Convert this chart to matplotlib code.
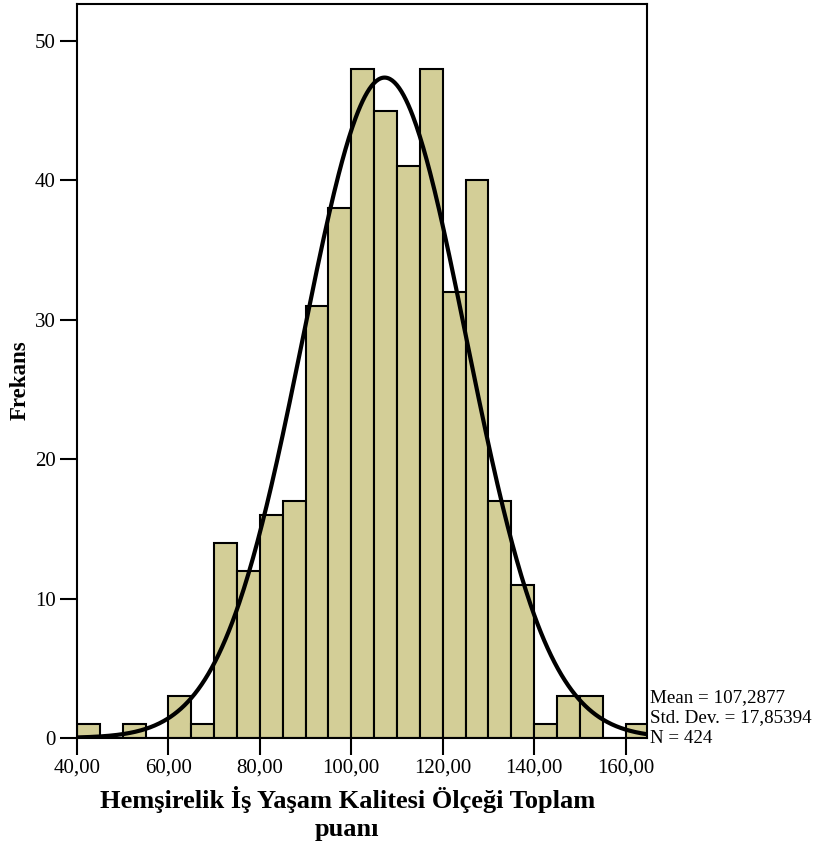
# histogram of Hemşirelik İş Yaşam Kalitesi Ölçeği Toplam puanı with normal curve

import numpy as np
import matplotlib.pyplot as plt

bin_edges = np.arange(40, 170, 5)
counts = [1, 0, 1, 0, 3, 1, 14, 12, 16, 17, 31, 38, 48, 45, 41, 48, 32, 40,
          17, 11, 1, 3, 3, 0, 1]
mean = 107.2877
std = 17.85394
n = 424
x_ticks = [40, 60, 80, 100, 120, 140, 160]
y_ticks = [0, 10, 20, 30, 40, 50]

plt.rcParams['font.family'] = ['Liberation Serif', 'DejaVu Serif']

fig = plt.figure(figsize=(8.16, 8.5), dpi=100)
ax = fig.add_axes([0.0944, 0.1318, 0.6985, 0.8635])

ax.bar(bin_edges[:-1], counts, width=5, align='edge', color='#d3ce97',
       edgecolor='black', linewidth=1.5, zorder=2)

xs = np.linspace(40, 164.7, 500)
pdf = n * 5 / (std * np.sqrt(2 * np.pi)) * np.exp(-0.5 * ((xs - mean) / std) ** 2)
ax.plot(xs, pdf, color='black', linewidth=3, zorder=3)

ax.set_xlim(40, 164.7)
ax.set_ylim(0, 52.65)
ax.set_xticks(x_ticks)
ax.set_xticklabels([f'{v:.2f}'.replace('.', ',') for v in x_ticks])
ax.set_yticks(y_ticks)
ax.tick_params(axis='both', direction='out', length=12, width=1.5, labelsize=15)
ax.tick_params(axis='x', pad=3)
for s in ax.spines.values():
    s.set_linewidth(1.5)

ax.set_xlabel('Hemşirelik İş Yaşam Kalitesi Ölçeği Toplam\npuanı',
              fontsize=19, fontweight='bold', linespacing=1.25)
ax.xaxis.set_label_coords(0.474, -0.066)
ax.set_ylabel('Frekans', fontsize=16.5, fontweight='bold')
ax.yaxis.set_label_coords(-0.081, 0.488)

stats = ('Mean = ' + f'{mean:.4f}'.replace('.', ',') + '\n'
         + 'Std. Dev. = ' + f'{std:.5f}'.replace('.', ',') + '\n'
         + f'N = {n}')
fig.text(0.796, 0.1553, stats, fontsize=13.7, ha='left', va='center',
         linespacing=1.3)

plt.savefig('out.png', dpi=100)
